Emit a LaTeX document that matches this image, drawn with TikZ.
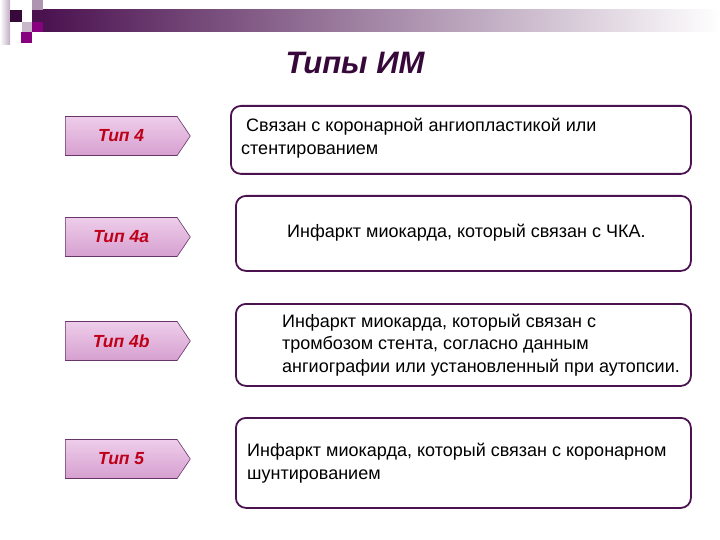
\documentclass[tikz,border=0pt]{standalone}
\usepackage{fontspec}
\setmainfont{Liberation Sans}
\usetikzlibrary{shapes.symbols}
\definecolor{plum}{RGB}{75,18,80}
\definecolor{darkplum}{RGB}{55,8,58}
\definecolor{magent}{RGB}{135,0,125}
\definecolor{tagred}{RGB}{190,0,25}
\definecolor{tagtop}{RGB}{238,205,234}
\definecolor{tagmid}{RGB}{248,232,246}
\definecolor{tagbot}{RGB}{214,160,208}
\tikzset{
  typtag/.style={signal, signal to=east, signal pointer angle=112, draw=plum!85,
    line width=0.6pt, minimum width=125pt, minimum height=39pt, anchor=west,
    top color=tagtop, middle color=tagmid, bottom color=tagbot,
    font=\fontsize{17.5}{20}\selectfont\bfseries\itshape, text=tagred},
  infobox/.style={draw=plum, line width=1.8pt, rounded corners=10pt,
    anchor=north west, fill=white},
  infotext/.style={anchor=west, align=left, inner sep=0pt,
    font=\fontsize{18}{22.5}\selectfont}
}
\begin{document}
\begin{tikzpicture}[x=1pt, y=-1pt]
                \useasboundingbox (0,0) rectangle (720,540);
                % corner squares and the bar
                \shade[left color=white, right color=plum!35] (0,0) rectangle (10,45);
                \fill[plum!45!white] (32,0) rectangle (43,10);
                \fill[darkplum] (10,10) rectangle (22,22);
                \fill[plum!30!white] (22,22) rectangle (32,32);
                \fill[magent] (32,22) rectangle (43,32);
                \fill[magent] (21,32) rectangle (32,43);
                \shade[left color=plum, right color=white] (43,10) rectangle (720,32);
                \fill[plum] (32,10) rectangle (43,22);
                % title
                \node[font=\fontsize{31}{34}\selectfont\bfseries\itshape, text=darkplum] (title) at (355,63) {Типы ИМ};
                % type tags
                \node[typtag] (t4) at (65,136) {Тип 4};
                \node[typtag] (t4a) at (65,237) {Тип 4a};
                \node[typtag] (t4b) at (65,341) {Тип 4b};
                \node[typtag] (t5) at (65,459) {Тип 5};
                % description boxes
                \node[infobox, minimum width=460pt, minimum height=68pt] (box1) at (230,105) {};
                \node[infobox, minimum width=455pt, minimum height=75pt] (box2) at (235,195) {};
                \node[infobox, minimum width=455pt, minimum height=82pt] (box3) at (235,303) {};
                \node[infobox, minimum width=455pt, minimum height=90pt] (box4) at (235,417) {};
                \node[infotext] (d1) at (241,138) {\ Связан с коронарной ангиопластикой или\\стентированием};
                \node[infotext] (d2) at (287,233) {Инфаркт миокарда, который связан с ЧКА.};
                \node[infotext] (d3) at (282,345) {Инфаркт миокарда, который связан с\\тромбозом стента, согласно данным\\ангиографии или установленный при аутопсии.};
                \node[infotext] (d4) at (247,463) {Инфаркт миокарда, который связан с коронарном\\шунтированием};
        \end{tikzpicture}
\end{document}
